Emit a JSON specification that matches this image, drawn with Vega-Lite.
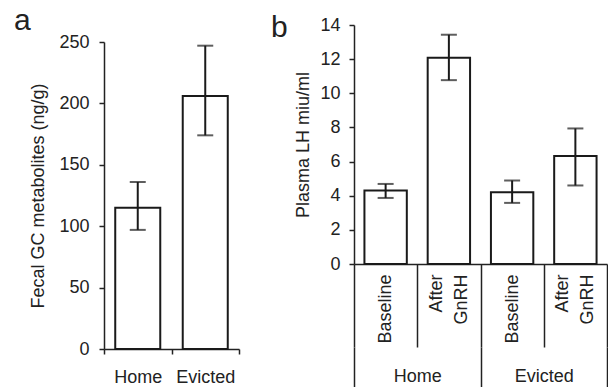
{
  "$schema": "https://vega.github.io/schema/vega-lite/v6.json",
  "padding": {"left": 14, "top": 6, "right": 0, "bottom": 0},
  "background": "white",
  "spacing": 31,
  "config": {
    "view": {"stroke": null},
    "font": "Liberation Sans",
    "axis": {
      "domainColor": "#222", "tickColor": "#222", "labelColor": "#222", "titleColor": "#222",
      "labelFont": "Liberation Sans", "titleFont": "Liberation Sans",
      "labelFontSize": 18, "titleFontSize": 18, "titleFontWeight": "normal",
      "domainWidth": 1.5, "tickWidth": 1.5, "grid": false, "labelOverlap": false
    },
    "title": {"font": "Liberation Sans", "fontSize": 30, "fontWeight": "normal", "color": "#222", "anchor": "start", "frame": "group"}
  },
  "hconcat": [
    {
      "title": {"text": "a", "dx": -90, "offset": -11},
      "width": 135,
      "height": 324,
      "data": {"values": [
        {"group": "Home", "mean": 115, "lo": 97, "hi": 136},
        {"group": "Evicted", "mean": 206, "lo": 174, "hi": 247}
      ]},
      "encoding": {
        "x": {"field": "group", "type": "nominal", "sort": ["Home", "Evicted"],
          "scale": {"paddingInner": 0, "paddingOuter": 0},
          "axis": {"title": null, "labelAngle": 0, "tickBand": "extent", "tickSize": 5, "labelBaseline": "middle", "labelPadding": 23,
            "labelExpr": "datum.label ? datum.label : ''"}}
      },
      "layer": [
        {"mark": {"type": "bar", "fill": "white", "stroke": "#1a1a1a", "strokeWidth": 2, "width": {"band": 0.667}},
         "encoding": {"y": {"field": "mean", "type": "quantitative",
           "scale": {"domain": [0, 250], "nice": false, "range": [324, 17]},
           "axis": {"title": "Fecal GC metabolites (ng/g)", "values": [0, 50, 100, 150, 200, 250], "tickCount": 12, "labelOverlap": false, "tickSize": 5, "labelPadding": 10, "titlePadding": 11}}}},
        {"mark": {"type": "rule", "stroke": "#1a1a1a", "strokeWidth": 2},
         "encoding": {"y": {"field": "lo", "type": "quantitative"}, "y2": {"field": "hi"}}},
        {"mark": {"type": "tick", "color": "#1a1a1a", "thickness": 2, "size": 16},
         "encoding": {"y": {"field": "lo", "type": "quantitative"}}},
        {"mark": {"type": "tick", "color": "#1a1a1a", "thickness": 2, "size": 16},
         "encoding": {"y": {"field": "hi", "type": "quantitative"}}}
      ]
    },
    {
      "title": {"text": "b", "dx": -83, "offset": -27},
      "width": 253,
      "height": 239,
      "resolve": {"scale": {"x": "independent"}},
      "data": {"values": [
        {"cond": "Home|Baseline", "mean": 4.3, "lo": 3.87, "hi": 4.69},
        {"cond": "Home|After GnRH", "mean": 12.08, "lo": 10.77, "hi": 13.43},
        {"cond": "Evicted|Baseline", "mean": 4.2, "lo": 3.58, "hi": 4.89},
        {"cond": "Evicted|After GnRH", "mean": 6.32, "lo": 4.6, "hi": 7.94}
      ]},
      "layer": [
        {"mark": {"type": "bar", "fill": "white", "stroke": "#1a1a1a", "strokeWidth": 2, "width": {"band": 0.67}},
         "encoding": {
           "x": {"field": "cond", "type": "nominal",
              "sort": ["Home|Baseline", "Home|After GnRH", "Evicted|Baseline", "Evicted|After GnRH"],
              "scale": {"paddingInner": 0, "paddingOuter": 0},
              "axis": {"title": null, "orient": "bottom", "labelAngle": -90, "labelAlign": "right", "labelBaseline": "middle",
                "tickBand": "extent", "tickSize": 83, "labelPadding": -73, "labelLineHeight": 25,
                "labelOffset": {"condition": {"test": "indexof(datum.label, 'GnRH') >= 0", "value": -12.5}, "value": 0},
                "labelExpr": "indexof(datum.label, '|') >= 0 ? split(split(datum.label, '|')[1], ' ') : ''"}},
           "y": {"field": "mean", "type": "quantitative",
             "scale": {"domain": [0, 14], "nice": false},
             "axis": {"title": "Plasma LH miu/ml", "values": [0, 2, 4, 6, 8, 10, 12, 14], "tickCount": 16, "labelOverlap": false, "tickSize": 5, "labelPadding": 9, "titlePadding": 7}}}},
        {"mark": {"type": "rule", "stroke": "#1a1a1a", "strokeWidth": 2},
         "encoding": {
           "x": {"field": "cond", "type": "nominal",
              "sort": ["Home|Baseline", "Home|After GnRH", "Evicted|Baseline", "Evicted|After GnRH"],
              "scale": {"paddingInner": 0, "paddingOuter": 0}, "axis": null},
           "y": {"field": "lo", "type": "quantitative"}, "y2": {"field": "hi"}}},
        {"mark": {"type": "tick", "color": "#1a1a1a", "thickness": 2, "size": 16},
         "encoding": {
           "x": {"field": "cond", "type": "nominal",
              "sort": ["Home|Baseline", "Home|After GnRH", "Evicted|Baseline", "Evicted|After GnRH"],
              "scale": {"paddingInner": 0, "paddingOuter": 0}, "axis": null},
           "y": {"field": "lo", "type": "quantitative"}}},
        {"mark": {"type": "tick", "color": "#1a1a1a", "thickness": 2, "size": 16},
         "encoding": {
           "x": {"field": "cond", "type": "nominal",
              "sort": ["Home|Baseline", "Home|After GnRH", "Evicted|Baseline", "Evicted|After GnRH"],
              "scale": {"paddingInner": 0, "paddingOuter": 0}, "axis": null},
           "y": {"field": "hi", "type": "quantitative"}}},
        {
          "data": {"values": [{"group": "Home"}, {"group": "Evicted"}]},
          "mark": {"type": "point", "opacity": 0},
          "encoding": {
            "x": {"field": "group", "type": "nominal", "sort": ["Home", "Evicted"],
              "scale": {"paddingInner": 0, "paddingOuter": 0},
              "axis": {"title": null, "orient": "bottom", "offset": 83, "domain": false, "labelAngle": 0,
                "tickBand": "extent", "tickSize": 41, "labelBaseline": "middle", "labelPadding": -12,
                "labelExpr": "datum.label ? datum.label : ''"}}
          }
        }
      ]
    }
  ]
}
